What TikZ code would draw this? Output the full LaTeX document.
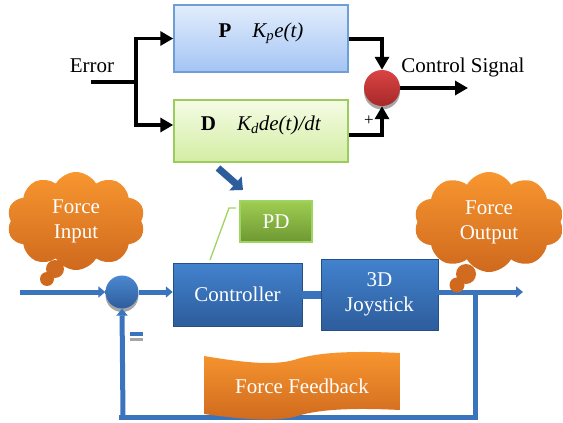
\documentclass[tikz,border=0pt]{standalone}
\usepackage{fontspec}
\setmainfont{Liberation Serif}
\usetikzlibrary{shapes.symbols,arrows.meta,calc}
\definecolor{blueT}{HTML}{4282CE}
\definecolor{blueB}{HTML}{2D5D9C}
\definecolor{blueL}{HTML}{3A74BC}
\definecolor{pT}{HTML}{E2EDFC}
\definecolor{pB}{HTML}{A4C4F4}
\definecolor{pD}{HTML}{6E9ED6}
\definecolor{dT}{HTML}{F5FCE4}
\definecolor{dB}{HTML}{D3EDA4}
\definecolor{dD}{HTML}{9CCC5E}
\definecolor{gT}{HTML}{9FCD52}
\definecolor{gB}{HTML}{6E9832}
\definecolor{gL}{HTML}{9ED560}
\definecolor{oT}{HTML}{F8962F}
\definecolor{oB}{HTML}{CF691E}
\definecolor{rT}{HTML}{D94444}
\definecolor{rB}{HTML}{A82828}
\definecolor{shd}{HTML}{A6A6A6}
\begin{document}
\begin{tikzpicture}[x=1pt,y=-1pt,
  font=\fontsize{21}{25}\selectfont,
  bluebox/.style={draw=blueB!85!black, line width=0.5pt, top color=blueT, bottom color=blueB, text=white, align=center, inner sep=0pt},
  pbox/.style={draw=pD, line width=1.5pt, top color=pT, bottom color=pB, inner sep=0pt},
  dbox/.style={draw=dD, line width=1.5pt, top color=dT, bottom color=dB, inner sep=0pt},
  blk/.style={line width=3.5pt, line join=miter, -{Triangle[length=13pt,width=14pt]}},
  blkline/.style={line width=3.5pt},
  bluearrow/.style={line width=5pt, draw=blueL, -{Triangle[length=7pt,width=11pt]}},
  blueline/.style={line width=5pt, draw=blueL},
  cloudst/.style={cloud, cloud puffs=10, cloud puff arc=120, aspect=1.4, top color=oT, bottom color=oB, text=white, align=center, inner sep=0pt},
  ball/.style={circle, inner sep=0pt, minimum size=#1}
]
\useasboundingbox (0,0) rectangle (563,423);

% ---------- top PD block diagram ----------
\node[pbox, minimum width=174, minimum height=67] (P) at (261,38.5) {};
\node (Pt) at (261,33) {\textbf{P}\quad\textit{K\textsubscript{p}e(t)}};
\node[dbox, minimum width=174, minimum height=62] (D) at (261,131) {};
\node (Dt) at (261,125) {\textbf{D}\quad\textit{K\textsubscript{d}de(t)/dt}};

\node (err) at (92,66) {Error};
\coordinate (e0) at (91,82);
\coordinate (split) at (136,82);
\coordinate (pin) at (P.west);
\coordinate (din) at ($(D.west)+(0,-6)$);
\draw[blkline] (e0) -- (split);
\draw[blk] (split) |- (pin);
\draw[blk] (split) |- (din);

\node[ball=36, fill=shd] (sigs) at (382,91.5) {};
\node[ball=36, top color=rT, bottom color=rB] (sig) at (382,88) {};
\coordinate (pout) at ($(P.east)+(0,0.5)$);
\coordinate (dout) at ($(D.east)+(0,4)$);
\draw[blk] (pout) -| (sig.north);
\draw[blk] (dout) -| (sig.south);
\node[font=\fontsize{17}{17}\selectfont] (plus) at (369,121) {+};
\node (cs) at (463,67) {Control Signal};
\coordinate (csend) at (468,88);
\draw[blk] (sig.east) -- (csend);

% ---------- diagonal blue arrow ----------
\coordinate (da) at (218,168);
\coordinate (db) at (243,190);
\draw[line width=7pt, draw=blueB, -{Triangle[length=10pt,width=18pt]}] (da) -- (db);

% ---------- PD callout ----------
\node[draw=gL, line width=1.2pt, top color=gT, bottom color=gB, text=white, minimum width=72, minimum height=41, inner sep=0pt] (PD) at (276,221.5) {PD};
\coordinate (cl1) at (210,260);
\coordinate (cl2) at (229,208);
\coordinate (cl3) at (236,208);
\draw[gL, line width=1.3pt] (cl1) -- (cl2) -- (cl3);

% ---------- feedback loop lines ----------
\coordinate (in) at (20,292);
\coordinate (fb1) at (475,291);
\coordinate (fb2) at (475,417);
\coordinate (fb3) at (123,417);
\coordinate (fb0) at (119,417);
\coordinate (outend) at (523,292);

\node[bluebox, minimum width=129, minimum height=63] (ctrl) at (237.5,294.5) {Controller};
\node[bluebox, minimum width=117, minimum height=71] (joy) at (379.5,294.5) {3D\\Joystick};

\node[ball=33, fill=shd] (sums) at (122,295.5) {};
\node[ball=33, top color=blueT!95!white, bottom color=blueB] (sum) at (122,292) {};

\draw[bluearrow] (in) -- (sum.west);
\draw[bluearrow] (sum.east) -- (sum.east -| ctrl.west);
\draw[blueline, line width=8pt] (ctrl.east) -- (joy.west);
\draw[bluearrow] (joy.east |- outend) -- (outend);
\draw[blueline] (fb1) -- (fb2) -- (fb0);
\draw[bluearrow] (fb3) -- (sum.south);

% minus sign
\fill[blueL] (130,332) rectangle (143,336);
\fill[shd] (130,337.5) rectangle (143,341);

% ---------- Force Feedback banner ----------
\shade[top color=oT, bottom color=oB]
  (204,356) .. controls (240,362) and (272,366) .. (294,360)
  .. controls (312,354) and (340,350) .. (400,353)
  -- (400,410)
  .. controls (340,407) and (312,411) .. (294,417)
  .. controls (272,422) and (240,419) .. (204,414) -- cycle;
\node[text=white] (ff) at (302,386) {Force Feedback};

% ---------- clouds ----------
\node[cloudst, minimum width=138, minimum height=98] (fin) at (76,221) {Force\\Input};
\fill[oB!95!oT] (55,269) circle (9);
\fill[oB] (47,279) circle (7);
\node[cloudst, minimum width=150, minimum height=100] (fout) at (489,222) {Force\\Output};
\fill[oB!95!oT] (466,274) circle (10);
\fill[oB] (457,285) circle (7.5);
\end{tikzpicture}
\end{document}
